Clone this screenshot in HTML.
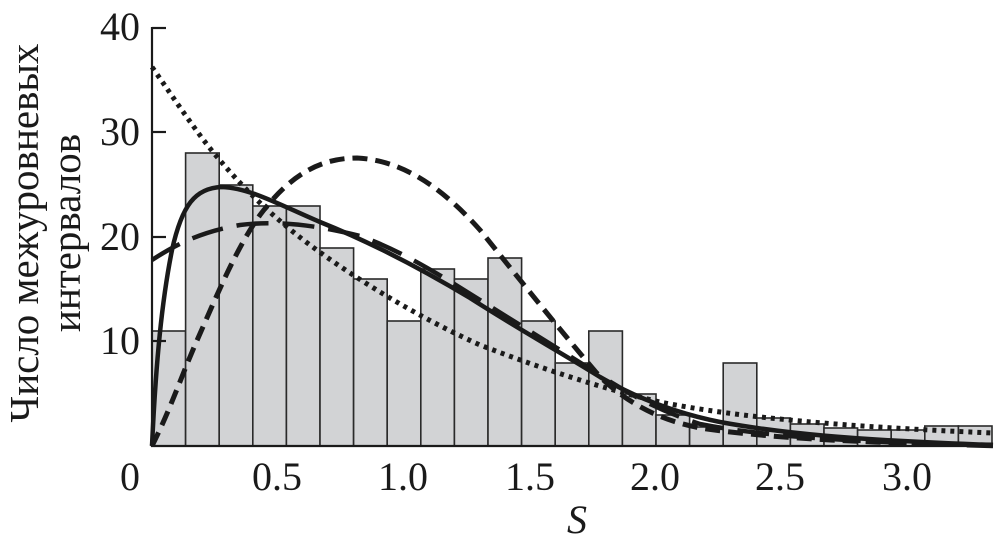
<!DOCTYPE html>
<html><head><meta charset="utf-8"><style>html,body{margin:0;padding:0;background:#fff}
svg text{font-family:"Liberation Serif","DejaVu Serif",serif}</style></head>
<body>
<svg width="1001" height="551" viewBox="0 0 1001 551" xmlns="http://www.w3.org/2000/svg">
<rect width="1001" height="551" fill="#fff"/>
<g fill="#d2d3d5" stroke="#2a2a2a" stroke-width="1.6">
<rect x="152" y="331" width="33.6" height="115"/>
<rect x="185.6" y="153" width="33.6" height="293"/>
<rect x="219.2" y="185" width="33.6" height="261"/>
<rect x="252.8" y="206" width="33.6" height="240"/>
<rect x="286.4" y="206" width="33.6" height="240"/>
<rect x="320" y="248" width="33.6" height="198"/>
<rect x="353.6" y="279" width="33.6" height="167"/>
<rect x="387.2" y="321" width="33.6" height="125"/>
<rect x="420.8" y="269" width="33.6" height="177"/>
<rect x="454.4" y="279" width="33.6" height="167"/>
<rect x="488" y="258" width="33.6" height="188"/>
<rect x="521.6" y="321" width="33.6" height="125"/>
<rect x="555.2" y="363" width="33.6" height="83"/>
<rect x="588.8" y="331" width="33.6" height="115"/>
<rect x="622.4" y="394" width="33.6" height="52"/>
<rect x="656" y="415" width="33.6" height="31"/>
<rect x="689.6" y="427" width="33.6" height="19"/>
<rect x="723.2" y="363" width="33.6" height="83"/>
<rect x="756.8" y="418" width="33.6" height="28"/>
<rect x="790.4" y="424" width="33.6" height="22"/>
<rect x="824" y="428" width="33.6" height="18"/>
<rect x="857.6" y="430" width="33.6" height="16"/>
<rect x="891.2" y="430" width="33.6" height="16"/>
<rect x="924.8" y="426" width="33.6" height="20"/>
<rect x="958.4" y="426" width="33.6" height="20"/>
</g>
<g fill="none" stroke="#1a1a1a">
<path d="M152,446 C156,360 162,300 172,250 C182,205 195,188 222,187 C250,188 280,205 320,222 C370,242 420,268 470,298 C520,330 560,352 600,377 C640,400 680,414 720,422 C780,433 850,440 993,445" stroke-width="4.5"/>
<path d="M152,67 C175,100 195,130 213,152 C240,185 270,215 310,245 C360,282 420,318 480,345 C540,368 600,388 660,402 C740,418 850,427 993,433" stroke-width="5" stroke-dasharray="4,5"/>
<path d="M152,446 C170,410 180,380 195,345 C215,300 235,250 260,215 C290,175 320,158 357,158 C400,160 440,185 480,230 C520,280 560,330 600,377 C630,405 660,420 700,428 C760,437 850,443 993,445" stroke-width="5" stroke-dasharray="15,8"/>
<path d="M152,260 C175,245 200,232 240,225 C280,220 320,226 360,236 C400,250 440,275 480,300 C520,325 560,350 600,375 C630,395 660,411 700,424 C760,436 850,442 993,446" stroke-width="4.5" stroke-dasharray="32,14"/>
</g>
<g stroke="#1a1a1a" stroke-width="2.2">
<line x1="152" y1="27" x2="152" y2="447"/>
<line x1="151" y1="446" x2="993" y2="446"/>
<line x1="152" y1="28" x2="166" y2="28"/>
<line x1="152" y1="132" x2="166" y2="132"/>
<line x1="152" y1="237" x2="166" y2="237"/>
<line x1="152" y1="341" x2="166" y2="341"/>
</g>
<g font-size="40" fill="#1a1a1a" text-anchor="middle">
<text x="120" y="40">40</text>
<text x="120" y="145">30</text>
<text x="120" y="250">20</text>
<text x="120" y="354">10</text>
<text x="130" y="490">0</text>
<text x="277" y="490">0.5</text>
<text x="403" y="490">1.0</text>
<text x="530" y="490">1.5</text>
<text x="655" y="490">2.0</text>
<text x="780" y="490">2.5</text>
<text x="907" y="490">3.0</text>
<text x="577" y="533" font-style="italic">S</text>
</g>
<g font-size="41" fill="#1a1a1a" text-anchor="middle">
<text transform="translate(38,233) rotate(-90)">Число межуровневых</text>
<text transform="translate(80,233) rotate(-90)">интервалов</text>
</g>
</svg>
</body></html>
